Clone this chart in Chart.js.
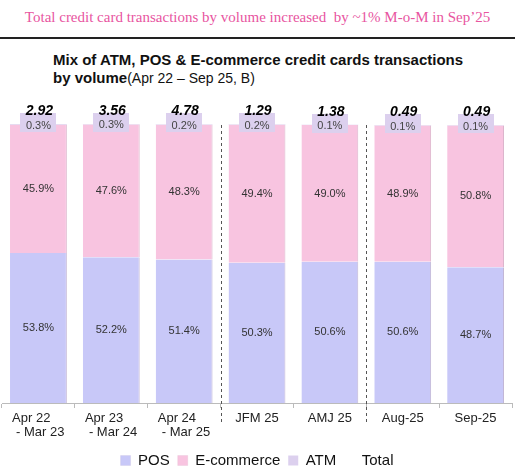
<!DOCTYPE html>
<html>
<head>
<meta charset="utf-8">
<script src="https://cdn.jsdelivr.net/npm/chart.js@4.4.1/dist/chart.umd.min.js"></script>
<style>
  body { margin: 0; background: #fff; }
  #wrap { position: relative; width: 515px; height: 474px; overflow: hidden; }
  #head { position: absolute; left: 0; top: 8px; width: 515px; text-align: center; font-family: "Liberation Serif", "Times New Roman", serif; font-size: 15px; line-height: 18px; color: #e8559f; white-space: pre; }
  #rule { position: absolute; left: 0; top: 37px; width: 515px; height: 2px; background: #222; }
  #title { position: absolute; left: 53px; top: 51px; font-family: "Liberation Sans", Arial, sans-serif; font-size: 15px; font-weight: bold; line-height: 18px; color: #111; }
  #title span { font-weight: normal; font-size: 14px; }
  canvas { position: absolute; left: 0; top: 0; }
</style>
</head>
<body>
<div id="wrap">
  <div id="head">Total credit card transactions by volume increased  by ~1% M-o-M in Sep’25</div>
  <div id="rule"></div>
  <div id="title">Mix of ATM, POS &amp; E-commerce credit cards transactions<br>by volume<span>(Apr 22 – Sep 25, B)</span></div>
  <canvas id="chart" width="515" height="474"></canvas>
</div>
<script>
// data
const categories = [
  ["Apr 22    ", " - Mar 23"],
  ["Apr 23    ", " - Mar 24"],
  ["Apr 24    ", " - Mar 25"],
  "JFM 25",
  "AMJ 25",
  "Aug-25",
  "Sep-25",
];
const posShare = [53.8, 52.2, 51.4, 50.3, 50.6, 50.6, 48.7];
const ecomShare = [45.9, 47.6, 48.3, 49.4, 49.0, 48.9, 50.8];
const atmShare = [0.3, 0.3, 0.2, 0.2, 0.1, 0.1, 0.1];
const totalVolume = [2.92, 3.56, 4.78, 1.29, 1.38, 0.49, 0.49];
const sectionBreaks = [2, 4]; // dashed line after these categories

const posColor = "#c8c8f8";
const ecomColor = "#f8c4e0";
const atmColor = "#dcd0ee";
const font = '"Liberation Sans", Arial, sans-serif';

//labels, boxes and separators
const mixLabels = {
  id: "mixLabels",
  afterDatasetsDraw(chart) {
    const ctx = chart.ctx;
    const xs = chart.scales.x;
    const area = chart.chartArea;
    ctx.save();

    ctx.strokeStyle = "#555";
    ctx.lineWidth = 1;
    ctx.setLineDash([3, 3]);
    sectionBreaks.forEach((i) => {
      const x = Math.round((xs.getPixelForValue(i) + xs.getPixelForValue(i + 1)) / 2) + 0.5;
      ctx.beginPath();
      ctx.moveTo(x, area.top + 1);
      ctx.lineTo(x, area.bottom + 20);
      ctx.stroke();
    });
    ctx.setLineDash([]);

    ctx.font = "11px " + font;
    ctx.textAlign = "center";
    ctx.textBaseline = "middle";
    [0, 1].forEach((d) => {
      const values = chart.data.datasets[d].data;
      chart.getDatasetMeta(d).data.forEach((bar, i) => {
        ctx.fillStyle = "#333";
        ctx.fillText(values[i].toFixed(1) + "%", bar.x, (bar.y + bar.base) / 2);
      });
    });

    chart.getDatasetMeta(2).data.forEach((bar, i) => {
      ctx.fillStyle = atmColor;
      ctx.fillRect(Math.round(bar.x - 18), Math.round(bar.y - 11), 36, 19);
      ctx.fillStyle = "#444";
      ctx.font = "11px " + font;
      ctx.textBaseline = "middle";
      ctx.fillText(atmShare[i].toFixed(1) + "%", bar.x, bar.y + 1.5);
      ctx.fillStyle = "#000";
      ctx.font = "italic bold 14px " + font;
      ctx.textBaseline = "alphabetic";
      ctx.fillText(totalVolume[i].toFixed(2), bar.x + 1, bar.y - 9);
    });
    ctx.restore();
  },
};

const chart = document.getElementById("chart").getContext("2d");

new Chart(chart, {
  type: "bar",
  data: {
    labels: categories,
    datasets: [
      {
        label: "POS",
        data: posShare,
        backgroundColor: posColor,
        borderColor: "#c2b6d6",
        borderWidth: { top: 0, right: 1, bottom: 0, left: 0 },
        barPercentage: 0.78,
        categoryPercentage: 1,
      },
      {
        label: "E-commerce",
        data: ecomShare,
        backgroundColor: ecomColor,
        borderColor: "#dcb4cc",
        borderWidth: { top: 0, right: 1, bottom: 0, left: 0 },
        barPercentage: 0.78,
        categoryPercentage: 1,
      },
      {
        label: "ATM",
        data: atmShare,
        backgroundColor: atmColor,
        borderWidth: 0,
        barPercentage: 0.78,
        categoryPercentage: 1,
      },
      {
        type: "line",
        label: "Total",
        data: totalVolume,
        yAxisID: "yT",
        showLine: false,
        pointRadius: 0,
        backgroundColor: "rgba(0,0,0,0)",
        borderColor: "rgba(0,0,0,0)",
      },
    ],
  },
  options: {
    responsive: false,
    animation: false,
    layout: { padding: { top: 124, left: 2, right: 3, bottom: -4 } },
    plugins: {
      tooltip: { enabled: false },
      legend: {
        position: "bottom",
        labels: {
          color: "#111",
          font: { family: font, size: 15 },
          boxWidth: 10,
          boxHeight: 10,
          padding: 8,
        },
      },
    },
    scales: {
      x: {
        stacked: true,
        grid: { display: true, drawOnChartArea: false, drawTicks: true, tickLength: 5, color: "#bbb", offset: true },
        border: { display: true, color: "#bbb" },
        ticks: {
          color: "#222",
          font: { family: font, size: 13, lineHeight: 1.1 },
          padding: 3,
          maxRotation: 0,
          autoSkip: false,
        },
        afterFit: (s) => {
          s.height = 474 + 4 - 403 - s.chart.legend.height;
        },
      },
      y: { stacked: true, display: false, min: 0, max: 100 },
      yT: { display: false, min: 0, max: 10 },
    },
  },
  plugins: [mixLabels],
});
</script>
</body>
</html>
